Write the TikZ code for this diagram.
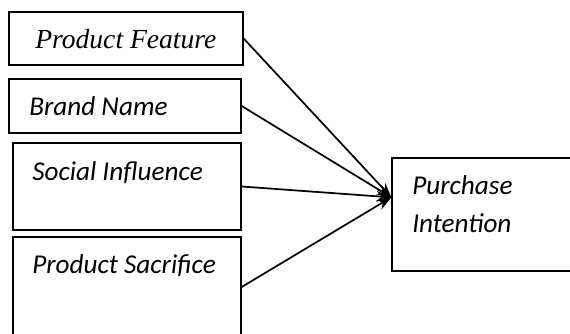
\documentclass[tikz,border=0pt]{standalone}
\usepackage{fontspec}
\setmainfont{Carlito}
\newfontfamily\serifit{Liberation Serif}
\usetikzlibrary{arrows.meta}
\begin{document}
\begin{tikzpicture}[x=0.75pt,y=-0.75pt,
  varbox/.style={draw, line width=1pt, rectangle, inner sep=0pt},
  lbl/.style={anchor=base west, inner sep=0pt,
    font=\fontsize{20.4}{28.5}\selectfont\itshape},
  link/.style={line width=1.3pt, -{Stealth[length=11pt,width=8pt]}}]
\useasboundingbox (0,0) rectangle (570,333);
\clip (0,0) rectangle (570,333);

% variable boxes
\node[varbox, minimum width=175.5pt, minimum height=39.75pt] (pf) at (126,38.5) {};
\node[varbox, minimum width=174pt,   minimum height=40.5pt]  (bn) at (125,106) {};
\node[varbox, minimum width=171pt,   minimum height=65.25pt] (si) at (127,186.5) {};
\node[varbox, minimum width=171pt,   minimum height=75pt]    (ps) at (127,287) {};
\node[varbox, minimum width=156pt,   minimum height=84.75pt] (pi) at (496,214.5) {};

% labels
\node[lbl, font=\fontsize{20.7}{28.5}\selectfont\serifit\itshape] (tpf) at (35,48) {Product Feature};
\node[lbl] (tbn) at (29,115) {Brand Name};
\node[lbl] (tsi) at (32,180) {Social Influence};
\node[lbl] (tps) at (32,273) {Product Sacrifice};
\node[lbl] (tpi1) at (412,194) {Purchase};
\node[lbl] (tpi2) at (412,232) {Intention};

% converging arrows
\coordinate (tip) at ([yshift=-30pt]pi.north west);
\draw[link] (pf.east) -- (tip);
\draw[link] (bn.east) -- (tip);
\draw[link] (si.east) -- (tip);
\draw[link] (ps.east) -- (tip);
\end{tikzpicture}
\end{document}
